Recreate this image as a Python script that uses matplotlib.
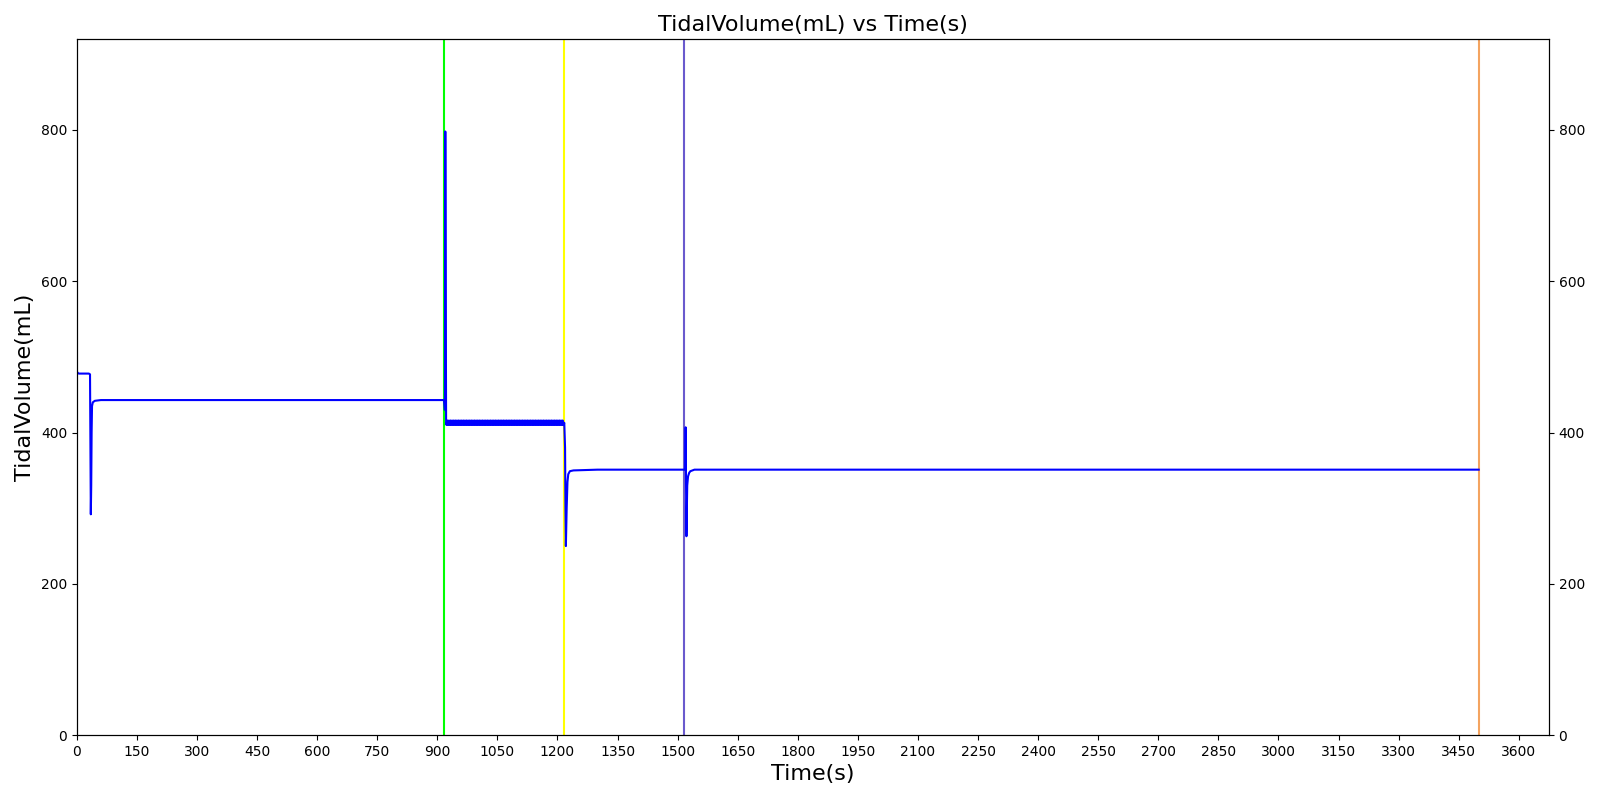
import numpy as np
import matplotlib
matplotlib.use("Agg")
import matplotlib.pyplot as plt

# ---- data ----
# key points of the tidal volume trace (time s, mL)
seg1_t = [0, 2, 5, 30, 33, 35, 36, 37, 38, 40, 45, 60, 300, 600, 916, 917, 919]
seg1_v = [481, 479, 478, 478, 477, 292, 330, 400, 435, 440, 442, 443, 443, 443, 443, 443, 430]
spike_t = [920, 921, 922]
spike_v = [798, 600, 413]
# alternating breath values in the 920-1215 s band
band_start, band_end, band_step = 923, 1216, 2
band_low, band_high = 410, 416
seg3_t = [1217, 1219, 1220, 1221, 1223, 1225, 1227, 1231, 1240, 1300, 1500, 1518]
seg3_v = [413, 380, 300, 250, 300, 335, 345, 349, 350, 351, 351, 351]
seg4_t = [1519, 1520, 1521, 1522, 1523, 1524, 1526, 1529, 1532, 1542, 2000, 2500, 3000, 3500]
seg4_v = [351, 407, 340, 263, 300, 330, 342, 347, 349, 351, 351, 351, 351, 351]

event_times = [917, 1217, 1516, 3500]
event_colors = ["#00ff00", "#ffff00", "#6a5acd", "#f4a460"]

x_ticks = list(range(0, 3601, 150))

band_t = list(range(band_start, band_end + 1, band_step))
band_v = [band_low if i % 2 == 0 else band_high for i in range(len(band_t))]

t = seg1_t + spike_t + band_t + seg3_t + seg4_t
v = seg1_v + spike_v + band_v + seg3_v + seg4_v

fig = plt.figure(figsize=(16, 8), dpi=100)
ax = fig.add_axes([0.048, 0.081, 0.920, 0.870])

for et, ec in zip(event_times, event_colors):
    ax.axvline(et, color=ec, linewidth=1.5, zorder=1)

ax.plot(t, v, color="blue", linewidth=1.5, zorder=2)

ax.set_xlim(0, 3675)
ax.set_ylim(0, 920)
ax.set_xticks(x_ticks)
ax.set_title("TidalVolume(mL) vs Time(s)", fontsize=16)
ax.set_xlabel("Time(s)", fontsize=16)
ax.set_ylabel("TidalVolume(mL)", fontsize=16)

ax2 = ax.twinx()
ax2.set_ylim(ax.get_ylim())

fig.savefig("out.png", dpi=100)
